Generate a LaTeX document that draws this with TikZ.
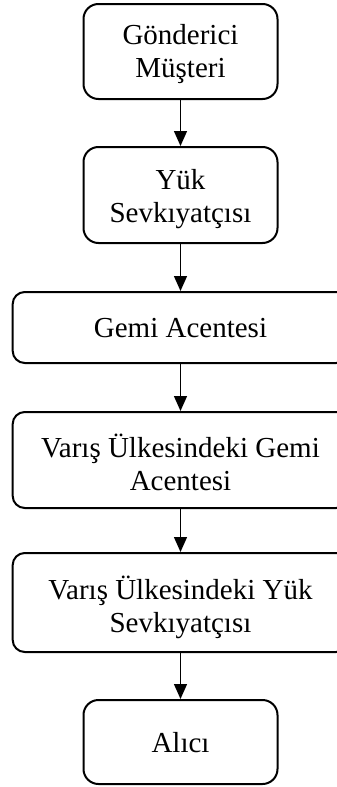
\documentclass[tikz,border=0pt]{standalone}
\usepackage{fontspec}
\setmainfont{Liberation Serif}
\usetikzlibrary{arrows.meta}
\begin{document}
\begin{tikzpicture}[x=1pt,y=-1pt,
  boxbase/.style={draw=black, line width=2pt, inner sep=0pt},
  boxtext/.style={align=center, inner sep=0pt, font=\fontsize{29}{33}\selectfont},
  narrowbox/.style={boxbase, rounded corners=15pt, minimum width=194pt},
  widebox/.style={boxbase, rounded corners=12pt, minimum width=335.6pt},
  flow/.style={line width=1.3pt, -{Triangle[length=15pt,width=13pt]}}]
\useasboundingbox (0,0) rectangle (337,787);
\clip (0,0) rectangle (337,787);
% chain of parties, top to bottom; text sits a little below each box centre
\node[narrowbox, minimum height=95pt,
  label={[boxtext, yshift=-3pt]center:Gönderici\\Müşteri}] (sender) at (180.5,51.5) {};
\node[narrowbox, minimum height=96pt,
  label={[boxtext, yshift=-4pt]center:Yük\\Sevkıyatçısı}] (forwarder) at (180.5,195) {};
\node[widebox, minimum height=71pt,
  label={[boxtext, yshift=-1pt]center:Gemi Acentesi}] (agent) at (180.5,327.5) {};
\node[widebox, minimum height=96pt,
  label={[boxtext, yshift=-2pt]center:Varış Ülkesindeki Gemi\\Acentesi}] (destagent) at (180.5,460) {};
\node[widebox, minimum height=99pt,
  label={[boxtext, yshift=-5pt]center:Varış Ülkesindeki Yük\\Sevkıyatçısı}] (destfwd) at (180.5,602.5) {};
\node[narrowbox, minimum height=84pt,
  label={[boxtext, yshift=-1pt]center:Alıcı}] (receiver) at (180.5,742) {};
% connectors
\draw[flow] (sender) -- (forwarder);
\draw[flow] (forwarder) -- (agent);
\draw[flow] (agent) -- (destagent);
\draw[flow] (destagent) -- (destfwd);
\draw[flow] (destfwd) -- (receiver);
\end{tikzpicture}
\end{document}
